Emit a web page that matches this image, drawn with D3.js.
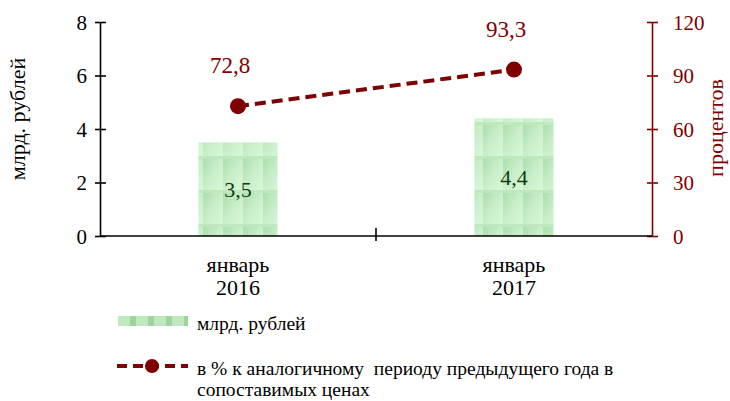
<!DOCTYPE html>
<html><head><meta charset="utf-8">
<script src="https://cdn.jsdelivr.net/npm/d3@7"></script>
<style>body{margin:0;background:#fff}svg{display:block}</style>
</head><body>
<svg id="c" width="730" height="401" font-family="Liberation Serif"></svg>
<script>
const categories = [["январь","2016"],["январь","2017"]];
const billions = [3.5, 4.4];
const billionLabels = ["3,5","4,4"];
const percents = [72.8, 93.3];
const percentLabels = ["72,8","93,3"];
const leftTicks = [0,2,4,6,8];
const rightTicks = [0,30,60,90,120];
const leftTitle = "млрд. рублей";
const rightTitle = "процентов";
const legendBar = "млрд. рублей";
const legendLine = ["в % к аналогичному  периоду предыдущего года в","сопоставимых ценах"];

const F = "Liberation Serif";
const red = "#7f0000";
const svg = d3.select("#c");
const defs = svg.append("defs");
const g1 = defs.append("linearGradient").attr("id","cellg").attr("x1","0").attr("y1","0").attr("x2","1").attr("y2","1");
g1.append("stop").attr("offset","0").attr("stop-color","#a9dca9");
g1.append("stop").attr("offset","0.5").attr("stop-color","#c8eec8");
g1.append("stop").attr("offset","1").attr("stop-color","#d8f8d8");
const pat = defs.append("pattern").attr("id","barpat").attr("patternUnits","userSpaceOnUse")
  .attr("width",20).attr("height",34).attr("x",3).attr("y",-14);
pat.append("rect").attr("width",20).attr("height",34).attr("fill","url(#cellg)");
pat.append("rect").attr("width",20).attr("height",3).attr("fill","#bfe8bf");
const lpat = defs.append("pattern").attr("id","legpat").attr("patternUnits","userSpaceOnUse")
  .attr("width",18).attr("height",5).attr("x",118).attr("y",316);
lpat.append("rect").attr("width",18).attr("height",5).attr("fill","#bfe8bf");
lpat.append("rect").attr("x",12).attr("width",6).attr("height",5).attr("fill","#9fd49f");

const x = d3.scaleBand().domain(d3.range(categories.length)).range([100,652]);
const yL = d3.scaleLinear().domain([0,8]).range([236,22]);
const yR = d3.scaleLinear().domain([0,120]).range([236,22]);
const bw = 79;

// bars
svg.selectAll(".bar").data(billions).join("rect")
  .attr("x",(d,i)=>x(i)+x.bandwidth()/2-bw/2).attr("width",bw)
  .attr("y",d=>yL(d)).attr("height",d=>yL(0)-yL(d)).attr("fill","url(#barpat)");
svg.selectAll(".blab").data(billions).join("text")
  .attr("x",(d,i)=>x(i)+x.bandwidth()/2).attr("y",d=>(yL(d)+yL(0))/2+8)
  .attr("text-anchor","middle").attr("font-size",22).attr("fill","#143a14").attr("font-family",F)
  .text((d,i)=>billionLabels[i]);

// left axis
const la = svg.append("g").attr("transform","translate(100,0)")
  .call(d3.axisLeft(yL).tickValues(leftTicks).tickSize(5).tickSizeOuter(0).tickPadding(8));
la.attr("font-family",F).attr("font-size",21);
la.select(".domain").attr("stroke","#000").attr("stroke-width",1.6);
la.selectAll(".tick line").clone().attr("x2",6);
la.selectAll(".tick line").attr("stroke","#000").attr("stroke-width",1.6);
la.selectAll("text").attr("fill","#000").attr("font-family",F).attr("dy","0.35em");

// right axis
const ra = svg.append("g").attr("transform","translate(652,0)")
  .call(d3.axisRight(yR).tickValues(rightTicks).tickSize(6).tickSizeOuter(0).tickPadding(15));
ra.attr("font-family",F).attr("font-size",21);
ra.select(".domain").attr("stroke",red).attr("stroke-width",1.6);
ra.selectAll(".tick line").clone().attr("x2",-5);
ra.selectAll(".tick line").attr("stroke",red).attr("stroke-width",1.6);
ra.selectAll("text").attr("fill",red).attr("font-family",F).attr("dy","0.35em");

// x axis
const xa = svg.append("g").attr("transform","translate(0,236)");
xa.append("line").attr("x1",100).attr("x2",652).attr("stroke","#000").attr("stroke-width",1.6);
const mids = d3.range(1,categories.length).map(i=>x(i));
xa.selectAll(".xt").data(mids).join("line").attr("x1",d=>d).attr("x2",d=>d)
  .attr("y1",-8).attr("y2",5).attr("stroke","#000").attr("stroke-width",1.6);
const cl = svg.selectAll(".cat").data(categories).join("text")
  .attr("text-anchor","middle").attr("font-size",22).attr("fill","#000").attr("font-family",F);
cl.append("tspan").attr("x",(d,i)=>x(i)+x.bandwidth()/2).attr("y",272).text(d=>d[0]);
cl.append("tspan").attr("x",(d,i)=>x(i)+x.bandwidth()/2).attr("y",295).text(d=>d[1]);

// line
const line = d3.line().x((d,i)=>x(i)+x.bandwidth()/2).y(d=>yR(d));
svg.append("path").attr("d",line(percents)).attr("fill","none").attr("stroke",red)
  .attr("stroke-width",4).attr("stroke-dasharray","11,6");
svg.selectAll(".pt").data(percents).join("circle")
  .attr("cx",(d,i)=>x(i)+x.bandwidth()/2).attr("cy",d=>yR(d)).attr("r",8).attr("fill",red);
svg.selectAll(".plab").data(percents).join("text")
  .attr("x",(d,i)=>x(i)+x.bandwidth()/2-8).attr("y",d=>yR(d)-33)
  .attr("text-anchor","middle").attr("font-size",23).attr("fill",red).attr("font-family",F)
  .text((d,i)=>percentLabels[i]);

// titles
svg.append("text").attr("transform","translate(25,119) rotate(-90)").attr("text-anchor","middle")
  .attr("font-size",22).attr("fill","#000").attr("font-family",F).text(leftTitle);
svg.append("text").attr("transform","translate(723,128) rotate(-90)").attr("text-anchor","middle")
  .attr("font-size",22).attr("fill",red).attr("font-family",F).text(rightTitle);

// legend
svg.append("rect").attr("x",118).attr("y",316).attr("width",70).attr("height",10).attr("fill","url(#legpat)");
svg.append("text").attr("x",197).attr("y",330).attr("font-size",19.5).attr("fill","#000").attr("font-family",F).text(legendBar);
svg.append("line").attr("x1",117).attr("x2",188).attr("y1",366).attr("y2",366).attr("stroke",red)
  .attr("stroke-width",4).attr("stroke-dasharray","10,6");
svg.append("circle").attr("cx",152).attr("cy",366).attr("r",7).attr("fill",red);
const lt = svg.append("text").attr("font-size",19.5).attr("fill","#000").attr("font-family",F).attr("xml:space","preserve");
lt.selectAll("tspan").data(legendLine).join("tspan").attr("x",197).attr("y",(d,i)=>375+i*21).text(d=>d);
</script>
</body></html>
